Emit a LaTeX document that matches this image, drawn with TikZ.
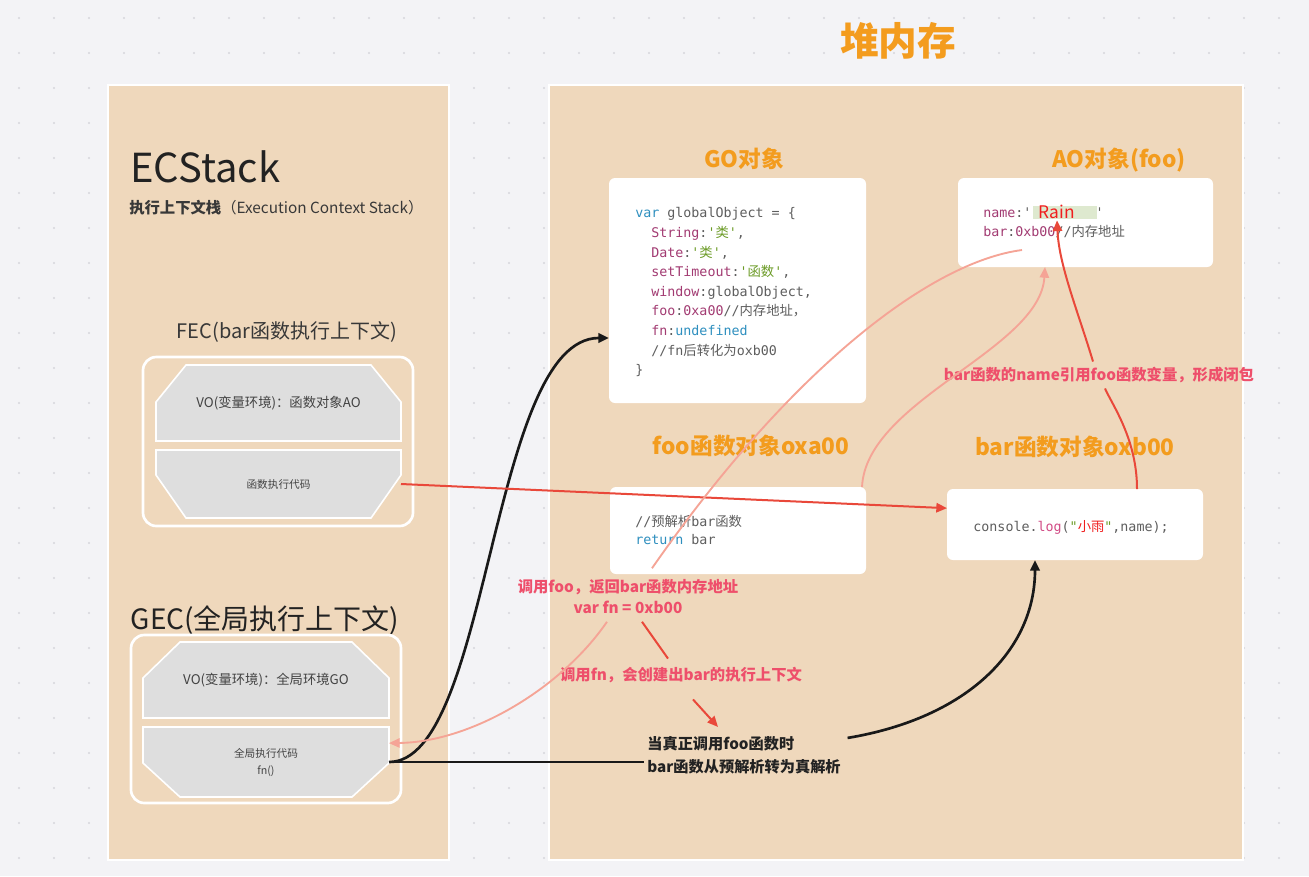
\documentclass[tikz,border=0pt]{standalone}
\usepackage{fontspec}
\setmainfont{Noto Sans CJK SC}
\setmonofont{DejaVu Sans Mono}
\newfontfamily\cjk{Noto Sans CJK SC}
\usetikzlibrary{arrows.meta,calc}
\definecolor{bgc}{HTML}{F3F3F6}
\definecolor{peach}{HTML}{EFD8BC}
\definecolor{grayb}{HTML}{DEDEDE}
\definecolor{orng}{HTML}{F39C1E}
\definecolor{lblred}{HTML}{EE4F6B}
\definecolor{arrred}{HTML}{E9483A}
\definecolor{salmon}{HTML}{F5A496}
\definecolor{cmag}{HTML}{A23B72}
\definecolor{cblue}{HTML}{2E8FBF}
\definecolor{cgreen}{HTML}{6B9B26}
\definecolor{cgray}{HTML}{5E5E5E}
\definecolor{clog}{HTML}{D24C86}
\definecolor{rainred}{HTML}{F01E1E}
\definecolor{dotc}{HTML}{D6D6DB}
\definecolor{txtdark}{HTML}{222222}
\newcommand\kmag[1]{\textcolor{cmag}{#1}}
\newcommand\kblue[1]{\textcolor{cblue}{#1}}
\newcommand\kgreen[1]{\textcolor{cgreen}{#1}}
\newcommand\kred[1]{\textcolor{rainred}{#1}}
\newcommand\klog[1]{\textcolor{clog}{#1}}
\def\pxu{0.75pt}
\begin{document}
\begin{tikzpicture}[x=0.75pt,y=-0.75pt,
  panel/.style={fill=peach,draw=white,line width=1.5pt},
  card/.style={fill=white,rounded corners=4.5pt,inner sep=0pt,outer sep=0pt},
  frame/.style={draw=white,line width=2pt,rounded corners=10pt},
  gshape/.style={fill=grayb,draw=white,line width=1.2pt},
  slot/.style={inner sep=0pt,outer sep=0pt,text=txtdark!85,align=center},
  orlabel/.style={text=orng,font=\bfseries\fontsize{17}{20}\selectfont},
  redlabel/.style={text=lblred,font=\bfseries\fontsize{11.5}{15.75}\selectfont,inner sep=1pt,align=center},
  code/.style={font=\ttfamily\fontsize{10}{14.7}\selectfont,text=cgray,align=left,inner sep=0pt,anchor=north west},
  blackline/.style={draw=black!90,line width=2pt},
  blackarrow/.style={blackline,-{Triangle[length=8pt,width=7pt]}},
  redline/.style={draw=arrred,line width=1.5pt},
  redarrow/.style={redline,-{Triangle[length=8pt,width=7pt]}},
  salmonline/.style={draw=salmon,line width=1.4pt},
  salmonarrow/.style={salmonline,-{Triangle[length=8pt,width=7pt]}}
]
\useasboundingbox (0,0) rectangle (1309,876);
\fill[bgc] (0,0) rectangle (1309,876);
\foreach \i in {0,...,37}{\foreach \j in {0,...,24}{\fill[dotc] (19+35*\i,18+35*\j) circle (0.9pt);}}

% panels
\draw[panel] (108,85) rectangle (449,860);
\draw[panel] (549,85) rectangle (1243,860);

% title
\node[text=orng,font=\bfseries\fontsize{29}{32}\selectfont] (title) at (898,41) {堆内存};

% left stack
\node[anchor=base west,text=txtdark,font=\fontsize{30}{34}\selectfont,inner sep=0pt] (ecs) at (130,182) {ECStack};
\node[anchor=base west,text=txtdark!90,font=\fontsize{11.5}{13}\selectfont,inner sep=0pt] (ecsub) at (129,213) {{\bfseries 执行上下文栈}（Execution Context Stack）};

\node[text=txtdark!90,font=\fontsize{15}{18}\selectfont] (feclbl) at (287,332) {FEC(bar函数执行上下文)};
\draw[frame] (143,357) rectangle (413,526);
\fill[gshape] (156,441) -- (156,402) -- (186,365) -- (371,365) -- (401,402) -- (401,441) -- cycle;
\fill[gshape] (156,450) -- (401,450) -- (401,475) -- (371,518) -- (186,518) -- (156,475) -- cycle;
\node[slot,minimum width=245*\pxu,minimum height=76*\pxu,font=\fontsize{10}{12}\selectfont] (fecvo) at (278.5,403) {VO(变量环境)：函数对象AO};
\node[slot,minimum width=245*\pxu,minimum height=68*\pxu,font=\fontsize{8}{10}\selectfont] (feccode) at (278.5,484) {函数执行代码};

\node[text=txtdark,font=\fontsize{21}{25}\selectfont] (geclbl) at (265,620) {GEC(全局执行上下文)};
\draw[frame] (131,635) rectangle (401,803);
\fill[gshape] (143,718) -- (143,678) -- (180,642) -- (352,642) -- (389,678) -- (389,718) -- cycle;
\fill[gshape] (143,727) -- (389,727) -- (389,763) -- (352,797) -- (180,797) -- (143,763) -- cycle;
\node[slot,minimum width=246*\pxu,minimum height=76*\pxu,font=\fontsize{10}{12}\selectfont] (gecvo) at (266,680) {VO(变量环境)：全局环境GO};
\node[slot,minimum width=246*\pxu,minimum height=70*\pxu,font=\fontsize{8}{12.75}\selectfont] (geccode) at (266,762) {全局执行代码\\fn()};

% heap cards
\node[orlabel] (golbl) at (744,159) {GO对象};
\node[card,minimum width=257*\pxu,minimum height=225*\pxu] (gobox) at (737.5,290.5) {};
\node[code] (gocode) at (635,204) {\strut\kblue{var} globalObject = \{\\
\phantom{xx}\kmag{String}:\kgreen{'{\cjk 类}'},\\
\phantom{xx}\kmag{Date}:\kgreen{'{\cjk 类}'},\\
\phantom{xx}\kmag{setTimeout}:\kgreen{'{\cjk 函数}'},\\
\phantom{xx}\kmag{window}:globalObject,\\
\phantom{xx}\kmag{foo}:\kmag{0xa00}//{\cjk 内存地址，}\\
\phantom{xx}\kmag{fn}:\kblue{undefined}\\
\phantom{xx}//fn{\cjk 后转化为}oxb00\\
\}};

\node[orlabel] (aolbl) at (1119,160) {AO对象(foo)};
\node[card,minimum width=255*\pxu,minimum height=89*\pxu] (aobox) at (1085.5,222.5) {};
\fill[cgreen!22] (1033,206) rectangle (1097,219);
\node[code,font=\ttfamily\fontsize{10}{14.3}\selectfont] (aocode) at (983,203.5) {\strut\kmag{name}:'\phantom{xxxxxxxx}'\\
\kmag{bar}:\kmag{0xb00}//{\cjk 内存地址}};
\node[font=\fontsize{13}{15}\selectfont,text=rainred,inner sep=1pt] (rain) at (1057,212) {Rain};

\node[orlabel] (foolbl) at (751,446) {foo函数对象oxa00};
\node[card,minimum width=256*\pxu,minimum height=87*\pxu] (foobox) at (738,530.5) {};
\node[code,font=\ttfamily\fontsize{10}{13.5}\selectfont] (foocode) at (635,514) {\strut//{\cjk 预解析}bar{\cjk 函数}\\
\kblue{return} bar};

\node[orlabel] (barlbl) at (1075,447) {bar函数对象oxb00};
\node[card,minimum width=256*\pxu,minimum height=71*\pxu] (barbox) at (1075,524.5) {};
\node[font=\ttfamily\fontsize{10}{12}\selectfont,text=cgray,inner sep=0pt,anchor=base] (barcode) at (1071,531.5) {console.\klog{log}(\kgreen{"}{\cjk\kred{小雨}}\kgreen{"},name);};

% labels
\node[redlabel,inner sep=4pt] (closure) at (1099,375) {bar函数的name引用foo函数变量，形成闭包};
\node[redlabel] (lbl1) at (628,597) {调用foo，返回bar函数内存地址\\var fn = 0xb00};
\node[redlabel] (lbl2) at (681,675) {调用fn，会创建出bar的执行上下文};
\node[text=txtdark,font=\bfseries\fontsize{11.4}{17}\selectfont,align=left,inner sep=2pt] (blk) at (744,755.5) {当真正调用foo函数时\\bar函数从预解析转为真解析};

% connectors
\coordinate (aostart) at (1022,250);
\draw[blackarrow] (geccode.east) .. controls (490,762) and (490,338) .. ($(gobox.south west)!0.289!(gobox.north west)$);
\draw[blackline] (geccode.east) -- (geccode.east -| blk.west);
\draw[blackarrow] ($(blk.north east)+(4,4)$) .. controls +(120,-20) and +(0,90) .. ($(barbox.south)+(-40,0)$);
\draw[redarrow] (feccode.east) -- ($(barbox.north west)!0.27!(barbox.south west)$);
\draw[salmonline] (aostart) .. controls (930,262) and (790,370) .. ($(lbl1.north)+(24,-10)$);
\draw[salmonarrow] ($(lbl1.south)+(-21,6)$) .. controls (560,690) and (470,742) .. ($(geccode.north east)!0.23!(geccode.south east)$);
\draw[salmonarrow] ($(foobox.north east)+(-4,0)$) .. controls (866,400) and (1040,350) .. ($(aobox.south west)+(87,0)$);
\draw[redline] ($(barbox.north)+(62,0)$) .. controls +(0,-50) and +(7,16) .. ($(closure.south)+(6,0)$);
\draw[redarrow] ($(closure.north)+(-6,0)$) .. controls +(-15,-50) and +(2,45) .. (rain.south);
\draw[redline] ($(lbl1.south)+(14,6)$) -- ($(lbl2.north)+(-13,-7)$);
\draw[redarrow] ($(lbl2.south)+(12,15)$) -- ($(blk.north)+(-26,-7)$);
\end{tikzpicture}
\end{document}
